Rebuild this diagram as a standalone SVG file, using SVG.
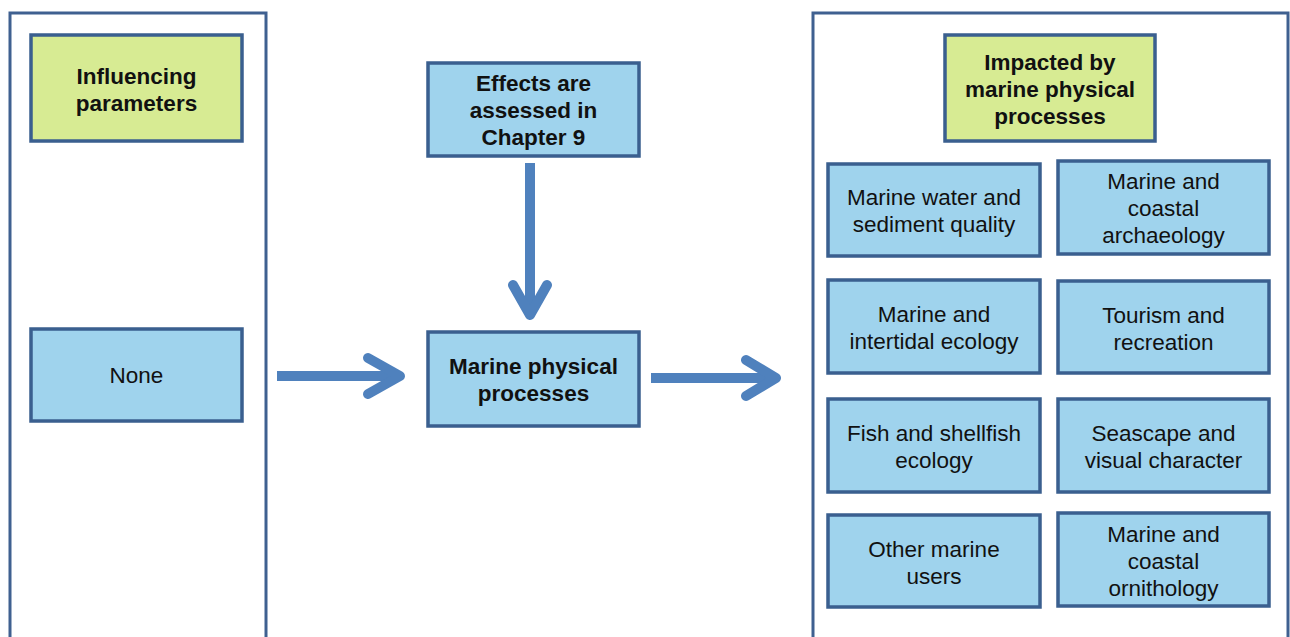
<svg xmlns="http://www.w3.org/2000/svg" width="1290" height="637" viewBox="0 0 1290 637">
  <style>
    .panel { fill: #ffffff; stroke: #3f6090; stroke-width: 3; }
    .box { stroke: #3a5f8f; stroke-width: 3.5; }
    .green { fill: #d7eb93; }
    .blue { fill: #9fd3ed; }
    text { font-family: "Liberation Sans", Arial, sans-serif; font-size: 22.5px; fill: #111111; text-anchor: middle; }
    .b { font-weight: bold; }
    .arrow { fill: none; stroke: #4f81bd; stroke-width: 10; }
    .head { stroke-linecap: round; stroke-linejoin: round; }
  </style>
  <rect width="1290" height="637" fill="#ffffff"/>

  <!-- column panels -->
  <g id="panel-left"><rect class="panel" x="10" y="13" width="256" height="640"/></g>
  <g id="panel-right"><rect class="panel" x="813" y="13" width="475" height="640"/></g>

  <!-- left column -->
  <g id="influencing">
    <rect class="box green" x="31" y="35" width="211" height="106"/>
    <text class="b" x="136.5" y="84">Influencing</text>
    <text class="b" x="136.5" y="111">parameters</text>
  </g>
  <g id="none">
    <rect class="box blue" x="31" y="329" width="211" height="92"/>
    <text x="136.5" y="383">None</text>
  </g>

  <!-- centre column -->
  <g id="effects">
    <rect class="box blue" x="428" y="63" width="211" height="93"/>
    <text class="b" x="533.5" y="91">Effects are</text>
    <text class="b" x="533.5" y="118">assessed in</text>
    <text class="b" x="533.5" y="145">Chapter 9</text>
  </g>
  <g id="processes">
    <rect class="box blue" x="428" y="332" width="211" height="94"/>
    <text class="b" x="533.5" y="374">Marine physical</text>
    <text class="b" x="533.5" y="401">processes</text>
  </g>

  <!-- right column -->
  <g id="impacted">
    <rect class="box green" x="945" y="35" width="210" height="106"/>
    <text class="b" x="1050" y="70">Impacted by</text>
    <text class="b" x="1050" y="97">marine physical</text>
    <text class="b" x="1050" y="124">processes</text>
  </g>
  <g id="water-quality">
    <rect class="box blue" x="828" y="164" width="212" height="92"/>
    <text x="934" y="205">Marine water and</text>
    <text x="934" y="232">sediment quality</text>
  </g>
  <g id="archaeology">
    <rect class="box blue" x="1058" y="161" width="211" height="93"/>
    <text x="1163.5" y="189">Marine and</text>
    <text x="1163.5" y="216">coastal</text>
    <text x="1163.5" y="243">archaeology</text>
  </g>
  <g id="intertidal">
    <rect class="box blue" x="828" y="280" width="212" height="93"/>
    <text x="934" y="322">Marine and</text>
    <text x="934" y="349">intertidal ecology</text>
  </g>
  <g id="tourism">
    <rect class="box blue" x="1058" y="281" width="211" height="92"/>
    <text x="1163.5" y="323">Tourism and</text>
    <text x="1163.5" y="350">recreation</text>
  </g>
  <g id="fish">
    <rect class="box blue" x="828" y="399" width="212" height="93"/>
    <text x="934" y="441">Fish and shellfish</text>
    <text x="934" y="468">ecology</text>
  </g>
  <g id="seascape">
    <rect class="box blue" x="1058" y="399" width="211" height="93"/>
    <text x="1163.5" y="441">Seascape and</text>
    <text x="1163.5" y="468">visual character</text>
  </g>
  <g id="other-users">
    <rect class="box blue" x="828" y="515" width="212" height="92"/>
    <text x="934" y="557">Other marine</text>
    <text x="934" y="584">users</text>
  </g>
  <g id="ornithology">
    <rect class="box blue" x="1058" y="513" width="211" height="93"/>
    <text x="1163.5" y="542">Marine and</text>
    <text x="1163.5" y="569">coastal</text>
    <text x="1163.5" y="596">ornithology</text>
  </g>

  <!-- connectors -->
  <g id="connectors">
    <line class="arrow" x1="277" y1="376" x2="398" y2="376"/>
    <polyline class="arrow head" points="368,358 400,376 368,394"/>
    <line class="arrow" x1="530" y1="163" x2="530" y2="314"/>
    <polyline class="arrow head" points="513,285 530,315 547,285"/>
    <line class="arrow" x1="651" y1="378" x2="773" y2="378"/>
    <polyline class="arrow head" points="746,360 776,378 746,396"/>
  </g>
</svg>
